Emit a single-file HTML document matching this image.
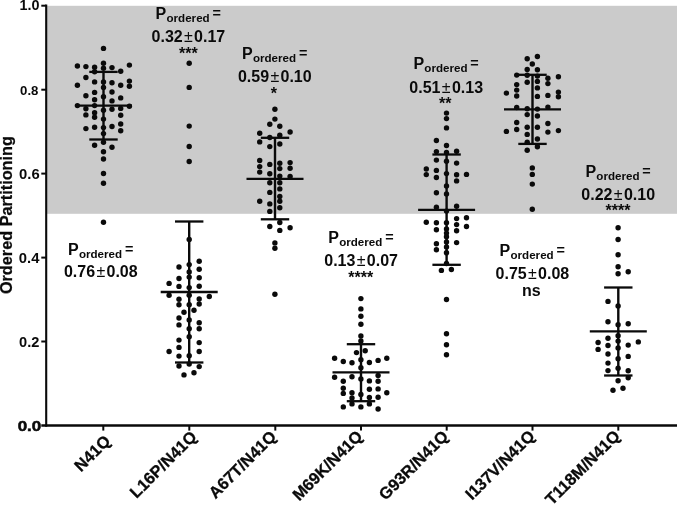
<!DOCTYPE html>
<html><head><meta charset="utf-8"><title>Ordered Partitioning</title>
<style>
html,body{margin:0;padding:0;background:#fff;}
body{width:677px;height:506px;overflow:hidden;}
svg{display:block;will-change:transform;}
svg text{font-family:"Liberation Sans",sans-serif;font-weight:bold;fill:#0a0a0a;}
</style></head><body>
<svg width="677" height="506" viewBox="0 0 677 506">
<rect x="0" y="0" width="677" height="506" fill="#ffffff"/>
<rect x="46" y="5.8" width="631" height="208" fill="#cbcbcb"/>
<g stroke="#0a0a0a" stroke-width="2.4" fill="none">
<line x1="46.2" y1="4.6" x2="46.2" y2="426.7" stroke-width="2.1"/>
<line x1="41.3" y1="425.5" x2="677" y2="425.5"/>
</g>
<g stroke="#0a0a0a" stroke-width="2" fill="none">
<line x1="41.3" y1="5.7" x2="46" y2="5.7"/>
<line x1="41.3" y1="89.7" x2="46" y2="89.7"/>
<line x1="41.3" y1="173.6" x2="46" y2="173.6"/>
<line x1="41.3" y1="257.6" x2="46" y2="257.6"/>
<line x1="41.3" y1="341.5" x2="46" y2="341.5"/>
<line x1="103.3" y1="425.5" x2="103.3" y2="430.6"/>
<line x1="189.3" y1="425.5" x2="189.3" y2="430.6"/>
<line x1="275.3" y1="425.5" x2="275.3" y2="430.6"/>
<line x1="361.0" y1="425.5" x2="361.0" y2="430.6"/>
<line x1="446.7" y1="425.5" x2="446.7" y2="430.6"/>
<line x1="532.5" y1="425.5" x2="532.5" y2="430.6"/>
<line x1="618.3" y1="425.5" x2="618.3" y2="430.6"/>
</g>
<text x="39.6" y="9.7" font-size="14.4" text-anchor="end">1.0</text>
<text x="38.4" y="94.7" font-size="13.2" text-anchor="end">0.8</text>
<text x="39.7" y="178.7" font-size="14.8" text-anchor="end">0.6</text>
<text x="39.4" y="262.7" font-size="14.8" text-anchor="end">0.4</text>
<text x="39.4" y="346.6" font-size="14.6" text-anchor="end">0.2</text>
<text x="41.3" y="430.9" font-size="14" text-anchor="end" textLength="23.6" lengthAdjust="spacingAndGlyphs" stroke="#0a0a0a" stroke-width="0.5">0.0</text>
<text transform="translate(11.9,215.1) rotate(-90)" font-size="16.25" text-anchor="middle" stroke="#0a0a0a" stroke-width="0.25">Ordered Partitioning</text>
<text transform="translate(111.4,442.1) rotate(-45)" font-size="16.4" text-anchor="end" stroke="#0a0a0a" stroke-width="0.3">N41Q</text>
<text transform="translate(197.8,437.8) rotate(-45)" font-size="16.4" text-anchor="end" stroke="#0a0a0a" stroke-width="0.3">L16P/N41Q</text>
<text transform="translate(277.3,437.6) rotate(-45)" font-size="16.4" text-anchor="end" stroke="#0a0a0a" stroke-width="0.3">A67T/N41Q</text>
<text transform="translate(363.6,437.2) rotate(-45)" font-size="16.4" text-anchor="end" stroke="#0a0a0a" stroke-width="0.3">M69K/N41Q</text>
<text transform="translate(449.4,437.3) rotate(-45)" font-size="16.4" text-anchor="end" stroke="#0a0a0a" stroke-width="0.3">G93R/N41Q</text>
<text transform="translate(535.7,437.0) rotate(-45)" font-size="16.4" text-anchor="end" stroke="#0a0a0a" stroke-width="0.3">I137V/N41Q</text>
<text transform="translate(620.9,437.0) rotate(-45)" font-size="16.4" text-anchor="end" stroke="#0a0a0a" stroke-width="0.3">T118M/N41Q</text>
<g stroke="#0a0a0a" fill="none">
<line x1="103.5" y1="71.8" x2="103.5" y2="139.4" stroke-width="2.4"/>
<line x1="75.0" y1="105.7" x2="132.0" y2="105.7" stroke-width="2.3"/>
<line x1="89.3" y1="71.9" x2="117.7" y2="71.9" stroke-width="2.3"/>
<line x1="89.3" y1="139.5" x2="117.7" y2="139.5" stroke-width="2.3"/>
<line x1="189.2" y1="221.4" x2="189.2" y2="362.4" stroke-width="2.4"/>
<line x1="160.7" y1="292.0" x2="217.7" y2="292.0" stroke-width="2.3"/>
<line x1="175.0" y1="221.5" x2="203.4" y2="221.5" stroke-width="2.3"/>
<line x1="175.0" y1="362.5" x2="203.4" y2="362.5" stroke-width="2.3"/>
<line x1="275.0" y1="137.7" x2="275.0" y2="219.2" stroke-width="2.4"/>
<line x1="246.5" y1="178.8" x2="303.5" y2="178.8" stroke-width="2.3"/>
<line x1="260.8" y1="137.8" x2="289.2" y2="137.8" stroke-width="2.3"/>
<line x1="260.8" y1="219.3" x2="289.2" y2="219.3" stroke-width="2.3"/>
<line x1="361.0" y1="344.1" x2="361.0" y2="401.1" stroke-width="2.4"/>
<line x1="332.5" y1="372.3" x2="389.5" y2="372.3" stroke-width="2.3"/>
<line x1="346.8" y1="344.2" x2="375.2" y2="344.2" stroke-width="2.3"/>
<line x1="346.8" y1="401.2" x2="375.2" y2="401.2" stroke-width="2.3"/>
<line x1="446.6" y1="154.4" x2="446.6" y2="264.7" stroke-width="2.4"/>
<line x1="418.1" y1="209.8" x2="475.1" y2="209.8" stroke-width="2.3"/>
<line x1="432.4" y1="154.5" x2="460.8" y2="154.5" stroke-width="2.3"/>
<line x1="432.4" y1="264.8" x2="460.8" y2="264.8" stroke-width="2.3"/>
<line x1="532.5" y1="74.7" x2="532.5" y2="143.8" stroke-width="2.4"/>
<line x1="504.0" y1="109.4" x2="561.0" y2="109.4" stroke-width="2.3"/>
<line x1="518.3" y1="74.8" x2="546.7" y2="74.8" stroke-width="2.3"/>
<line x1="518.3" y1="143.9" x2="546.7" y2="143.9" stroke-width="2.3"/>
<line x1="618.3" y1="287.4" x2="618.3" y2="375.4" stroke-width="2.4"/>
<line x1="589.8" y1="331.4" x2="646.8" y2="331.4" stroke-width="2.3"/>
<line x1="604.1" y1="287.5" x2="632.5" y2="287.5" stroke-width="2.3"/>
<line x1="604.1" y1="375.5" x2="632.5" y2="375.5" stroke-width="2.3"/>
</g>
<g fill="#0a0a0a">
<circle cx="103.5" cy="48.4" r="2.7"/><circle cx="103.5" cy="63.3" r="2.7"/><circle cx="77.4" cy="66.0" r="2.7"/><circle cx="85.9" cy="66.6" r="2.7"/><circle cx="94.6" cy="67.2" r="2.7"/><circle cx="103.5" cy="68.2" r="2.7"/><circle cx="112.0" cy="67.6" r="2.7"/><circle cx="129.4" cy="65.1" r="2.7"/><circle cx="120.7" cy="71.2" r="2.7"/><circle cx="94.6" cy="71.8" r="2.7"/><circle cx="85.9" cy="77.5" r="2.7"/><circle cx="94.6" cy="81.9" r="2.7"/><circle cx="103.5" cy="81.9" r="2.7"/><circle cx="112.0" cy="82.7" r="2.7"/><circle cx="129.4" cy="81.1" r="2.7"/><circle cx="77.4" cy="85.2" r="2.7"/><circle cx="120.7" cy="85.2" r="2.7"/><circle cx="129.4" cy="86.2" r="2.7"/><circle cx="103.5" cy="87.4" r="2.7"/><circle cx="94.6" cy="92.4" r="2.7"/><circle cx="112.0" cy="92.0" r="2.7"/><circle cx="85.9" cy="95.7" r="2.7"/><circle cx="103.5" cy="96.7" r="2.7"/><circle cx="120.7" cy="97.9" r="2.7"/><circle cx="94.6" cy="99.7" r="2.7"/><circle cx="112.0" cy="100.9" r="2.7"/><circle cx="77.4" cy="105.6" r="2.7"/><circle cx="94.6" cy="105.6" r="2.7"/><circle cx="129.4" cy="106.2" r="2.7"/><circle cx="85.9" cy="108.8" r="2.7"/><circle cx="112.0" cy="109.2" r="2.7"/><circle cx="120.7" cy="108.4" r="2.7"/><circle cx="103.5" cy="110.2" r="2.7"/><circle cx="94.6" cy="112.7" r="2.7"/><circle cx="85.9" cy="114.9" r="2.7"/><circle cx="120.7" cy="115.3" r="2.7"/><circle cx="94.6" cy="117.3" r="2.7"/><circle cx="103.5" cy="119.1" r="2.7"/><circle cx="120.7" cy="124.0" r="2.7"/><circle cx="85.9" cy="128.6" r="2.7"/><circle cx="94.6" cy="127.3" r="2.7"/><circle cx="103.5" cy="127.6" r="2.7"/><circle cx="112.0" cy="126.5" r="2.7"/><circle cx="120.7" cy="130.7" r="2.7"/><circle cx="103.5" cy="133.6" r="2.7"/><circle cx="103.5" cy="142.2" r="2.7"/><circle cx="94.6" cy="145.2" r="2.7"/><circle cx="112.0" cy="147.3" r="2.7"/><circle cx="103.5" cy="151.7" r="2.7"/><circle cx="103.5" cy="159.0" r="2.7"/><circle cx="103.5" cy="173.5" r="2.7"/><circle cx="103.5" cy="183.3" r="2.7"/><circle cx="103.5" cy="222.3" r="2.7"/>
<circle cx="189.2" cy="63.3" r="2.7"/><circle cx="189.2" cy="87.4" r="2.7"/><circle cx="189.2" cy="126.1" r="2.7"/><circle cx="189.2" cy="146.5" r="2.7"/><circle cx="189.2" cy="161.5" r="2.7"/><circle cx="189.2" cy="239.5" r="2.7"/><circle cx="199.2" cy="261.3" r="2.7"/><circle cx="189.2" cy="264.6" r="2.7"/><circle cx="179.0" cy="267.0" r="2.7"/><circle cx="199.2" cy="269.2" r="2.7"/><circle cx="189.2" cy="271.9" r="2.7"/><circle cx="189.2" cy="277.1" r="2.7"/><circle cx="179.0" cy="278.5" r="2.7"/><circle cx="199.2" cy="277.7" r="2.7"/><circle cx="169.1" cy="283.4" r="2.7"/><circle cx="179.0" cy="286.4" r="2.7"/><circle cx="199.2" cy="286.2" r="2.7"/><circle cx="189.2" cy="287.6" r="2.7"/><circle cx="169.1" cy="295.3" r="2.7"/><circle cx="189.2" cy="295.3" r="2.7"/><circle cx="209.3" cy="296.5" r="2.7"/><circle cx="179.0" cy="299.2" r="2.7"/><circle cx="199.2" cy="299.0" r="2.7"/><circle cx="179.0" cy="304.8" r="2.7"/><circle cx="189.2" cy="304.8" r="2.7"/><circle cx="199.2" cy="304.0" r="2.7"/><circle cx="194.0" cy="310.3" r="2.7"/><circle cx="184.0" cy="312.3" r="2.7"/><circle cx="179.0" cy="318.0" r="2.7"/><circle cx="189.2" cy="320.0" r="2.7"/><circle cx="199.2" cy="322.8" r="2.7"/><circle cx="179.0" cy="324.9" r="2.7"/><circle cx="189.2" cy="328.8" r="2.7"/><circle cx="199.2" cy="328.8" r="2.7"/><circle cx="189.2" cy="336.7" r="2.7"/><circle cx="179.0" cy="340.1" r="2.7"/><circle cx="199.2" cy="342.6" r="2.7"/><circle cx="179.0" cy="347.4" r="2.7"/><circle cx="169.1" cy="351.5" r="2.7"/><circle cx="199.2" cy="351.5" r="2.7"/><circle cx="179.0" cy="356.1" r="2.7"/><circle cx="189.2" cy="355.7" r="2.7"/><circle cx="179.0" cy="366.0" r="2.7"/><circle cx="189.2" cy="364.0" r="2.7"/><circle cx="199.2" cy="366.6" r="2.7"/><circle cx="194.0" cy="372.7" r="2.7"/><circle cx="184.0" cy="374.9" r="2.7"/>
<circle cx="274.9" cy="109.2" r="2.7"/><circle cx="274.9" cy="119.1" r="2.7"/><circle cx="269.8" cy="124.3" r="2.7"/><circle cx="279.8" cy="126.2" r="2.7"/><circle cx="259.7" cy="133.2" r="2.7"/><circle cx="290.1" cy="132.0" r="2.7"/><circle cx="279.8" cy="135.2" r="2.7"/><circle cx="269.8" cy="137.5" r="2.7"/><circle cx="259.7" cy="141.9" r="2.7"/><circle cx="279.8" cy="144.0" r="2.7"/><circle cx="269.8" cy="146.6" r="2.7"/><circle cx="259.7" cy="160.5" r="2.7"/><circle cx="290.1" cy="162.6" r="2.7"/><circle cx="279.8" cy="163.2" r="2.7"/><circle cx="269.8" cy="164.4" r="2.7"/><circle cx="259.7" cy="166.6" r="2.7"/><circle cx="290.1" cy="168.2" r="2.7"/><circle cx="279.8" cy="168.6" r="2.7"/><circle cx="259.7" cy="172.1" r="2.7"/><circle cx="269.8" cy="173.7" r="2.7"/><circle cx="279.8" cy="176.1" r="2.7"/><circle cx="290.1" cy="176.5" r="2.7"/><circle cx="269.8" cy="182.7" r="2.7"/><circle cx="279.8" cy="182.7" r="2.7"/><circle cx="279.8" cy="188.9" r="2.7"/><circle cx="269.8" cy="192.4" r="2.7"/><circle cx="279.8" cy="196.4" r="2.7"/><circle cx="259.7" cy="201.2" r="2.7"/><circle cx="279.8" cy="201.2" r="2.7"/><circle cx="269.8" cy="203.9" r="2.7"/><circle cx="279.8" cy="207.7" r="2.7"/><circle cx="269.8" cy="211.4" r="2.7"/><circle cx="279.8" cy="222.5" r="2.7"/><circle cx="269.8" cy="226.5" r="2.7"/><circle cx="290.1" cy="227.7" r="2.7"/><circle cx="279.8" cy="230.4" r="2.7"/><circle cx="274.9" cy="242.9" r="2.7"/><circle cx="274.9" cy="248.2" r="2.7"/><circle cx="274.9" cy="294.2" r="2.7"/>
<circle cx="360.9" cy="298.6" r="2.7"/><circle cx="360.9" cy="308.9" r="2.7"/><circle cx="360.9" cy="316.3" r="2.7"/><circle cx="360.9" cy="324.2" r="2.7"/><circle cx="360.9" cy="336.0" r="2.7"/><circle cx="360.9" cy="341.0" r="2.7"/><circle cx="365.2" cy="350.7" r="2.7"/><circle cx="356.5" cy="352.6" r="2.7"/><circle cx="334.6" cy="358.2" r="2.7"/><circle cx="386.8" cy="358.2" r="2.7"/><circle cx="360.9" cy="359.8" r="2.7"/><circle cx="378.1" cy="360.4" r="2.7"/><circle cx="343.3" cy="361.5" r="2.7"/><circle cx="352.0" cy="362.7" r="2.7"/><circle cx="369.4" cy="362.5" r="2.7"/><circle cx="360.9" cy="367.7" r="2.7"/><circle cx="378.1" cy="375.5" r="2.7"/><circle cx="334.6" cy="377.2" r="2.7"/><circle cx="352.0" cy="376.8" r="2.7"/><circle cx="360.9" cy="379.0" r="2.7"/><circle cx="343.3" cy="381.2" r="2.7"/><circle cx="369.4" cy="380.9" r="2.7"/><circle cx="378.1" cy="381.2" r="2.7"/><circle cx="343.3" cy="388.3" r="2.7"/><circle cx="369.4" cy="389.2" r="2.7"/><circle cx="378.1" cy="388.9" r="2.7"/><circle cx="343.3" cy="393.4" r="2.7"/><circle cx="352.0" cy="392.8" r="2.7"/><circle cx="360.9" cy="394.4" r="2.7"/><circle cx="386.8" cy="392.8" r="2.7"/><circle cx="369.4" cy="397.4" r="2.7"/><circle cx="378.1" cy="397.2" r="2.7"/><circle cx="352.0" cy="398.0" r="2.7"/><circle cx="352.0" cy="403.9" r="2.7"/><circle cx="369.4" cy="403.9" r="2.7"/><circle cx="343.3" cy="406.9" r="2.7"/><circle cx="360.9" cy="406.9" r="2.7"/><circle cx="378.1" cy="409.0" r="2.7"/>
<circle cx="446.5" cy="113.1" r="2.7"/><circle cx="446.5" cy="118.6" r="2.7"/><circle cx="446.5" cy="127.9" r="2.7"/><circle cx="436.4" cy="140.5" r="2.7"/><circle cx="446.5" cy="145.5" r="2.7"/><circle cx="436.4" cy="151.6" r="2.7"/><circle cx="446.5" cy="152.4" r="2.7"/><circle cx="456.6" cy="151.2" r="2.7"/><circle cx="436.4" cy="160.1" r="2.7"/><circle cx="446.5" cy="161.3" r="2.7"/><circle cx="456.6" cy="163.1" r="2.7"/><circle cx="426.3" cy="169.0" r="2.7"/><circle cx="436.4" cy="170.4" r="2.7"/><circle cx="426.3" cy="174.6" r="2.7"/><circle cx="446.5" cy="173.6" r="2.7"/><circle cx="456.6" cy="174.8" r="2.7"/><circle cx="466.5" cy="174.4" r="2.7"/><circle cx="436.4" cy="177.5" r="2.7"/><circle cx="456.6" cy="180.9" r="2.7"/><circle cx="446.5" cy="186.0" r="2.7"/><circle cx="436.4" cy="192.8" r="2.7"/><circle cx="446.5" cy="193.9" r="2.7"/><circle cx="436.4" cy="207.3" r="2.7"/><circle cx="456.6" cy="206.2" r="2.7"/><circle cx="446.5" cy="211.1" r="2.7"/><circle cx="466.5" cy="217.8" r="2.7"/><circle cx="456.6" cy="218.6" r="2.7"/><circle cx="426.3" cy="222.2" r="2.7"/><circle cx="436.4" cy="222.8" r="2.7"/><circle cx="446.5" cy="222.8" r="2.7"/><circle cx="456.6" cy="224.6" r="2.7"/><circle cx="466.5" cy="226.5" r="2.7"/><circle cx="436.4" cy="229.7" r="2.7"/><circle cx="446.5" cy="228.9" r="2.7"/><circle cx="456.6" cy="230.7" r="2.7"/><circle cx="446.5" cy="233.1" r="2.7"/><circle cx="446.5" cy="236.8" r="2.7"/><circle cx="446.5" cy="242.0" r="2.7"/><circle cx="456.6" cy="242.6" r="2.7"/><circle cx="436.4" cy="243.7" r="2.7"/><circle cx="446.5" cy="246.9" r="2.7"/><circle cx="436.4" cy="249.7" r="2.7"/><circle cx="446.5" cy="252.8" r="2.7"/><circle cx="446.5" cy="263.5" r="2.7"/><circle cx="451.4" cy="269.5" r="2.7"/><circle cx="441.4" cy="270.4" r="2.7"/><circle cx="446.5" cy="299.5" r="2.7"/><circle cx="446.5" cy="333.7" r="2.7"/><circle cx="446.5" cy="344.8" r="2.7"/><circle cx="446.5" cy="354.7" r="2.7"/>
<circle cx="537.4" cy="56.5" r="2.7"/><circle cx="527.2" cy="58.8" r="2.7"/><circle cx="532.3" cy="64.0" r="2.7"/><circle cx="527.2" cy="69.5" r="2.7"/><circle cx="537.4" cy="69.7" r="2.7"/><circle cx="516.7" cy="75.1" r="2.7"/><circle cx="527.2" cy="75.3" r="2.7"/><circle cx="537.4" cy="76.1" r="2.7"/><circle cx="558.4" cy="76.8" r="2.7"/><circle cx="547.9" cy="78.2" r="2.7"/><circle cx="527.2" cy="82.2" r="2.7"/><circle cx="537.4" cy="81.4" r="2.7"/><circle cx="547.9" cy="83.6" r="2.7"/><circle cx="516.7" cy="84.6" r="2.7"/><circle cx="537.4" cy="87.9" r="2.7"/><circle cx="516.7" cy="90.1" r="2.7"/><circle cx="506.4" cy="93.1" r="2.7"/><circle cx="558.4" cy="92.1" r="2.7"/><circle cx="516.7" cy="96.0" r="2.7"/><circle cx="537.4" cy="96.4" r="2.7"/><circle cx="547.9" cy="95.4" r="2.7"/><circle cx="558.4" cy="96.8" r="2.7"/><circle cx="516.7" cy="107.5" r="2.7"/><circle cx="547.9" cy="107.1" r="2.7"/><circle cx="527.2" cy="108.7" r="2.7"/><circle cx="537.4" cy="109.1" r="2.7"/><circle cx="527.2" cy="114.6" r="2.7"/><circle cx="537.4" cy="116.0" r="2.7"/><circle cx="516.7" cy="122.5" r="2.7"/><circle cx="547.9" cy="123.5" r="2.7"/><circle cx="527.2" cy="127.2" r="2.7"/><circle cx="537.4" cy="127.3" r="2.7"/><circle cx="516.7" cy="129.5" r="2.7"/><circle cx="506.4" cy="131.4" r="2.7"/><circle cx="558.4" cy="130.6" r="2.7"/><circle cx="547.9" cy="132.1" r="2.7"/><circle cx="527.2" cy="134.4" r="2.7"/><circle cx="537.4" cy="139.0" r="2.7"/><circle cx="527.2" cy="142.2" r="2.7"/><circle cx="537.4" cy="146.8" r="2.7"/><circle cx="527.2" cy="150.3" r="2.7"/><circle cx="532.3" cy="167.9" r="2.7"/><circle cx="532.3" cy="174.4" r="2.7"/><circle cx="532.3" cy="184.1" r="2.7"/><circle cx="532.3" cy="209.3" r="2.7"/>
<circle cx="618.1" cy="227.7" r="2.7"/><circle cx="618.1" cy="239.5" r="2.7"/><circle cx="618.1" cy="254.8" r="2.7"/><circle cx="618.1" cy="266.8" r="2.7"/><circle cx="628.2" cy="271.8" r="2.7"/><circle cx="618.1" cy="273.7" r="2.7"/><circle cx="608.0" cy="301.4" r="2.7"/><circle cx="618.1" cy="306.0" r="2.7"/><circle cx="608.0" cy="321.8" r="2.7"/><circle cx="628.2" cy="323.7" r="2.7"/><circle cx="618.1" cy="324.7" r="2.7"/><circle cx="618.1" cy="335.8" r="2.7"/><circle cx="608.0" cy="338.2" r="2.7"/><circle cx="618.1" cy="341.1" r="2.7"/><circle cx="598.1" cy="342.5" r="2.7"/><circle cx="638.3" cy="341.9" r="2.7"/><circle cx="608.0" cy="345.5" r="2.7"/><circle cx="628.2" cy="345.1" r="2.7"/><circle cx="618.1" cy="347.9" r="2.7"/><circle cx="598.1" cy="349.4" r="2.7"/><circle cx="608.0" cy="354.0" r="2.7"/><circle cx="628.2" cy="356.4" r="2.7"/><circle cx="618.1" cy="358.7" r="2.7"/><circle cx="608.0" cy="363.1" r="2.7"/><circle cx="618.1" cy="368.2" r="2.7"/><circle cx="608.0" cy="370.6" r="2.7"/><circle cx="628.2" cy="370.8" r="2.7"/><circle cx="628.2" cy="377.7" r="2.7"/><circle cx="618.1" cy="380.7" r="2.7"/><circle cx="623.0" cy="388.2" r="2.7"/><circle cx="613.0" cy="390.2" r="2.7"/>
</g>
<text x="68.0" y="255.0" font-size="16">P</text><text x="78.9" y="257.9" font-size="11.6">ordered</text><text x="124.9" y="253.9" font-size="14.4">=</text>
<text x="100.8" y="277.3" font-size="16" text-anchor="middle">0.76<tspan font-weight="normal" dx="1.3">±</tspan><tspan dx="1.3">0.08</tspan></text>
<text x="155.6" y="18.8" font-size="16">P</text><text x="166.5" y="21.7" font-size="11.6">ordered</text><text x="212.5" y="17.7" font-size="14.4">=</text>
<text x="188.4" y="41.5" font-size="16" text-anchor="middle">0.32<tspan font-weight="normal" dx="1.3">±</tspan><tspan dx="1.3">0.17</tspan></text>
<text x="188.4" y="58.8" font-size="16" text-anchor="middle">***</text>
<text x="242.0" y="58.8" font-size="16">P</text><text x="252.9" y="61.7" font-size="11.6">ordered</text><text x="298.9" y="57.7" font-size="14.4">=</text>
<text x="274.8" y="81.8" font-size="16" text-anchor="middle">0.59<tspan font-weight="normal" dx="1.3">±</tspan><tspan dx="1.3">0.10</tspan></text>
<text x="273.8" y="98.6" font-size="16" text-anchor="middle">*</text>
<text x="328.3" y="243.4" font-size="16">P</text><text x="339.2" y="246.3" font-size="11.6">ordered</text><text x="385.2" y="242.3" font-size="14.4">=</text>
<text x="361.1" y="266.0" font-size="16" text-anchor="middle">0.13<tspan font-weight="normal" dx="1.3">±</tspan><tspan dx="1.3">0.07</tspan></text>
<text x="360.8" y="283.1" font-size="16" text-anchor="middle">****</text>
<text x="413.4" y="69.3" font-size="16">P</text><text x="424.3" y="72.2" font-size="11.6">ordered</text><text x="470.3" y="68.2" font-size="14.4">=</text>
<text x="446.2" y="92.5" font-size="16" text-anchor="middle">0.51<tspan font-weight="normal" dx="1.3">±</tspan><tspan dx="1.3">0.13</tspan></text>
<text x="445.2" y="108.8" font-size="16" text-anchor="middle">**</text>
<text x="499.6" y="255.8" font-size="16">P</text><text x="510.5" y="258.7" font-size="11.6">ordered</text><text x="556.5" y="254.7" font-size="14.4">=</text>
<text x="532.4" y="279.2" font-size="16" text-anchor="middle">0.75<tspan font-weight="normal" dx="1.3">±</tspan><tspan dx="1.3">0.08</tspan></text>
<text x="531.4" y="296.0" font-size="16" text-anchor="middle">ns</text>
<text x="585.4" y="176.6" font-size="16">P</text><text x="596.3" y="179.5" font-size="11.6">ordered</text><text x="642.3" y="175.5" font-size="14.4">=</text>
<text x="618.2" y="199.8" font-size="16" text-anchor="middle">0.22<tspan font-weight="normal" dx="1.3">±</tspan><tspan dx="1.3">0.10</tspan></text>
<text x="618.0" y="216.2" font-size="16" text-anchor="middle">****</text>
</svg>
</body></html>
